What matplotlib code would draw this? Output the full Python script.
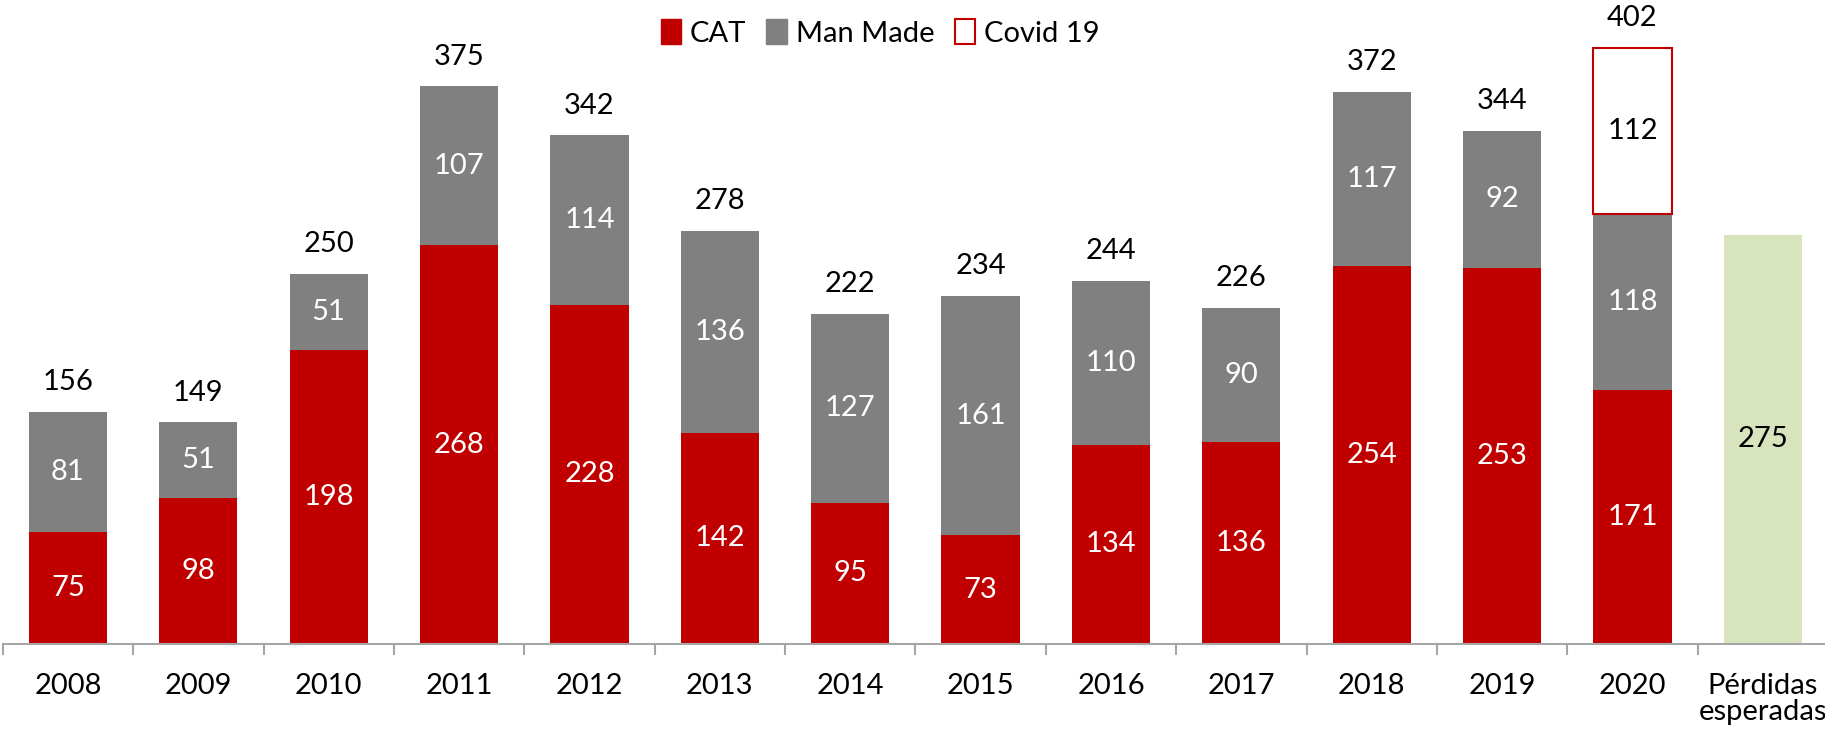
import numpy as np
import matplotlib
matplotlib.use("Agg")
import matplotlib.pyplot as plt
from matplotlib.patches import Patch

plt.rcParams['font.family'] = ['Lato', 'DejaVu Sans']

# data
years = ['2008', '2009', '2010', '2011', '2012', '2013', '2014',
         '2015', '2016', '2017', '2018', '2019', '2020']
cat = [75, 98, 198, 268, 228, 142, 95, 73, 134, 136, 254, 253, 171]
man_made = [81, 51, 51, 107, 114, 136, 127, 161, 110, 90, 117, 92, 118]
covid_2020 = 112
totals = [156, 149, 250, 375, 342, 278, 222, 234, 244, 226, 372, 344, 402]
expected_label = 'Pérdidas\nesperadas'
expected = 275

red = '#C00000'
grey = '#808080'
green = '#D7E4BD'
fs = 21

W, H = 1825, 730
fig = plt.figure(figsize=(W / 100, H / 100), dpi=100)
# axes spans from x=2.8px to 1828px, baseline at y=644px
ax = fig.add_axes([2.8 / W, (H - 644) / H, (1828 - 2.8) / W, 644 / H])

x = np.arange(len(years))
bw = 0.6
ax.bar(x, cat, bw, color=red)
ax.bar(x, man_made, bw, bottom=cat, color=grey)
base20 = cat[-1] + man_made[-1]
ax.bar(x[-1], covid_2020, bw, bottom=base20, facecolor='white',
       edgecolor=red, linewidth=1.5)
xe = len(years)
ax.bar(xe, expected, bw, color=green)

# labels in segments
for i in range(len(years)):
    ax.text(x[i], cat[i] / 2, str(cat[i]), ha='center', va='center',
            color='white', fontsize=fs)
    ax.text(x[i], cat[i] + man_made[i] / 2, str(man_made[i]), ha='center',
            va='center', color='white', fontsize=fs)
    top = cat[i] + man_made[i] + (covid_2020 if i == len(years) - 1 else 0)
    ax.text(x[i], top + 20, str(totals[i]), ha='center', va='center',
            color='black', fontsize=fs)
ax.text(x[-1], base20 + covid_2020 / 2, str(covid_2020), ha='center',
        va='center', color='black', fontsize=fs)
ax.text(xe, expected / 2, str(expected), ha='center', va='center',
        color='black', fontsize=fs)

ax.set_xlim(-0.5, xe + 0.5)
ax.set_ylim(0, 433)
ax.set_yticks([])
for s in ['top', 'right', 'left']:
    ax.spines[s].set_visible(False)
ax.spines['bottom'].set_color('#A6A6A6')
ax.spines['bottom'].set_linewidth(1.5)

ax.set_xticks(list(x) + [xe])
ax.set_xticklabels(years + [expected_label], fontsize=fs, linespacing=1.0)
ax.tick_params(axis='x', length=0, pad=21)
ax.set_xticks(np.arange(-0.5, xe + 1, 1), minor=True)
ax.tick_params(axis='x', which='minor', length=8, width=1.5, color='#A6A6A6')

handles = [Patch(facecolor=red, edgecolor=red),
           Patch(facecolor=grey, edgecolor=grey),
           Patch(facecolor='white', edgecolor=red, linewidth=1.5)]
fig.legend(handles, ['CAT', 'Man Made', 'Covid 19'], loc='center',
           bbox_to_anchor=(880 / W, 1 - 33 / H), ncol=3, frameon=False,
           fontsize=fs, handlelength=0.7, handleheight=0.9,
           handletextpad=0.3, columnspacing=0.7)

fig.savefig('out.png', dpi=100)
